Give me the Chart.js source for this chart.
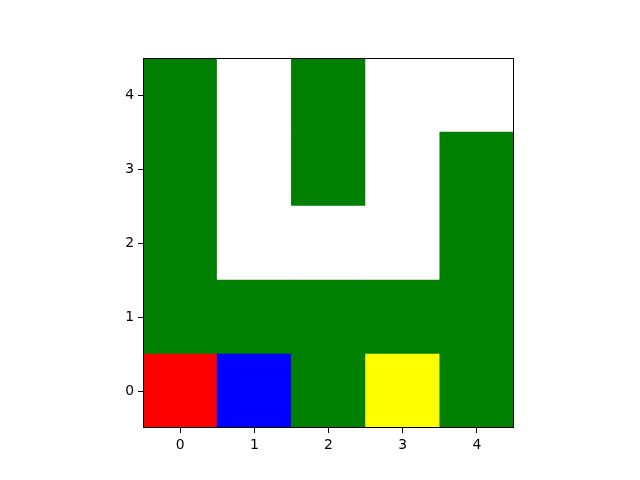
<!DOCTYPE html>
<html>
<head>
<meta charset="utf-8">
<script src="https://cdn.jsdelivr.net/npm/chart.js@4"></script>
<style>
  html, body { margin: 0; padding: 0; background: #fff; }
  #wrap { width: 640px; height: 480px; }
</style>
</head>
<body>
<div id="wrap"><canvas id="c" width="640" height="480"></canvas></div>
<script>
// Column categories (x) and row indices (y)
const xLabels = ['0', '1', '2', '3', '4'];
const yTicks = [0, 1, 2, 3, 4];
// Cell values per row (row 0 at bottom)
const row0 = ['red', 'blue', 'green', 'yellow', 'green'];
const row1 = ['green', 'green', 'green', 'green', 'green'];
const row2 = ['green', 'white', 'white', 'white', 'green'];
const row3 = ['green', 'white', 'green', 'white', 'green'];
const row4 = ['green', 'white', 'green', 'white', 'white'];
const rows = [row0, row1, row2, row3, row4];

const palette = { red: '#ff0000', blue: '#0000ff', green: '#008000', yellow: '#ffff00', white: '#ffffff' };

const datasets = rows.map((row, r) => ({
  label: 'row ' + r,
  data: xLabels.map(() => [yTicks[r] - 0.5, yTicks[r] + 0.5]),
  backgroundColor: row.map(v => palette[v]),
  borderWidth: 0,
  barPercentage: 1.0,
  categoryPercentage: 1.0,
  grouped: false
}));

const frame = {
  id: 'frame',
  afterDatasetsDraw(chart) {
    const a = chart.chartArea, ctx = chart.ctx;
    ctx.save();
    ctx.strokeStyle = '#000';
    ctx.lineWidth = 1;
    ctx.strokeRect(Math.round(a.left) + 0.5, Math.round(a.top) + 0.5, Math.round(a.right - a.left) - 1, Math.round(a.bottom - a.top) - 1);
    ctx.restore();
  }
};

const font = { family: 'DejaVu Sans', size: 13.9 };

new Chart(document.getElementById('c'), {
  type: 'bar',
  data: { labels: xLabels, datasets },
  options: {
    responsive: false,
    animation: false,
    layout: { padding: { left: 100, right: 126, top: 58, bottom: 0 } },
    plugins: { legend: { display: false }, tooltip: { enabled: false } },
    scales: {
      x: {
        type: 'category',
        grid: { offset: false, drawOnChartArea: false, drawTicks: true, tickLength: 5, color: '#000', tickWidth: 1 },
        border: { display: false },
        ticks: { color: '#000', font, padding: 4, maxRotation: 0 },
        afterFit(s) { s.height = 52; }
      },
      y: {
        type: 'linear',
        min: -0.5, max: 4.5,
        afterBuildTicks(s) { s.ticks = yTicks.map(v => ({ value: v })); },
        grid: { drawOnChartArea: false, drawTicks: true, tickLength: 5, color: '#000', tickWidth: 1 },
        border: { display: false },
        ticks: { color: '#000', font, padding: 4 },
        afterFit(s) { s.width = 43; }
      }
    }
  },
  plugins: [frame]
});
</script>
</body>
</html>
